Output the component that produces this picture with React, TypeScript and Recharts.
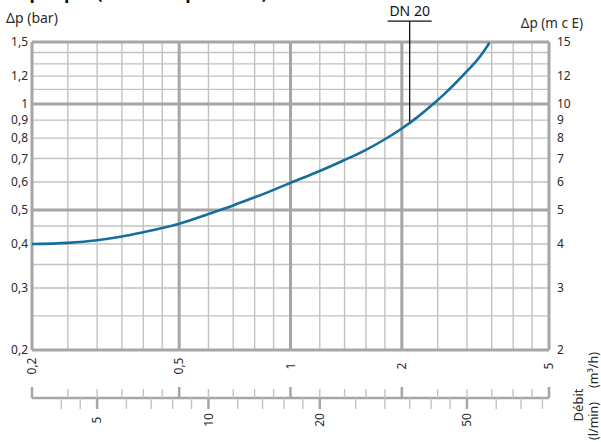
import React from 'react';
import { ComposedChart, Line, XAxis, YAxis, ReferenceLine } from 'recharts';

// pressure drop curve, DN 20
const flowM3h = [0.2, 0.25, 0.3, 0.35, 0.4, 0.45, 0.5, 0.6, 0.7, 0.8, 0.9, 1, 1.2, 1.4, 1.6, 1.8, 2, 2.2, 2.4, 2.6, 2.8, 3, 3.1, 3.2, 3.3, 3.4, 3.45];
const dpBar = [0.4, 0.403, 0.41, 0.42, 0.432, 0.444, 0.457, 0.487, 0.515, 0.543, 0.57, 0.597, 0.645, 0.693, 0.741, 0.794, 0.852, 0.916, 0.988, 1.065, 1.149, 1.239, 1.285, 1.335, 1.392, 1.457, 1.493];

const gridMinorX = [0.25, 0.3, 0.35, 0.4, 0.45, 0.6, 0.7, 0.8, 0.9, 1.2, 1.4, 1.6, 1.8, 2.5, 3, 3.5, 4, 4.5];
const gridMajorX = [0.5, 1, 2];
const frameX = [0.2, 5];
const gridMinorY = [0.25, 0.3, 0.35, 0.4, 0.45, 0.6, 0.7, 0.8, 0.9, 1.1, 1.2, 1.3, 1.4];
const gridMajorY = [0.5, 1];
const frameY = [0.2, 1.5];

const leftTicks = [0.2, 0.3, 0.4, 0.5, 0.6, 0.7, 0.8, 0.9, 1, 1.2, 1.5];
const rightTicks = [2, 3, 4, 5, 6, 7, 8, 9, 10, 12, 15];
const m3hLabels = [0.2, 0.5, 1, 2, 5];
const m3hTicks = [...frameX, ...gridMajorX, ...gridMinorX].sort((a, b) => a - b);
const lminTicks = [4, 4.5, 5, 6, 7, 8, 9, 10, 12, 14, 16, 18, 20, 25, 30, 35, 40, 45, 50, 60, 70, 80];
const lminLabels = [5, 10, 20, 50];

const dnFlow = 2.1;
const dnDp = 0.883;
const dnTop = 1.72;

// l/min is the same flow, just another unit
const data = flowM3h.map((q, i) => ({ q, lmin: (q * 1000) / 60, dp: dpBar[i] }));

const font = '"Noto Sans", sans-serif';
const textColor = '#2b2b2b';
const minorColor = '#c2c2c2';
const majorColor = '#a6a6a6';

const comma = (v: number) => String(v).replace('.', ',');

const M3hTick = (props: any) => {
  const { x, y, payload } = props;
  const v = payload.value;
  const major = m3hLabels.includes(v);
  return (
    <g>
      {major && (
        <text
          transform={`translate(${x},${y + 16}) rotate(-90)`}
          textAnchor="middle"
          dy="0.35em"
          fontSize={12}
          fontFamily={font}
          fill={textColor}
        >
          {comma(v)}
        </text>
      )}
      <line
        x1={x}
        x2={x}
        y1={y + (major ? 37 : 39)}
        y2={y + 48}
        stroke={major ? majorColor : minorColor}
        strokeWidth={major ? 2.5 : 1.4}
      />
    </g>
  );
};

const LminTick = (props: any) => {
  const { x, y, payload } = props;
  const v = payload.value;
  const major = lminLabels.includes(v);
  return (
    <g>
      <line
        x1={x}
        x2={x}
        y1={y}
        y2={y + 11}
        stroke={major ? majorColor : minorColor}
        strokeWidth={major ? 2.5 : 1.4}
      />
      {major && (
        <text
          transform={`translate(${x},${y + 22}) rotate(-90)`}
          textAnchor="middle"
          dy="0.35em"
          fontSize={12}
          fontFamily={font}
          fill={textColor}
        >
          {v}
        </text>
      )}
    </g>
  );
};

const DnLabel = (props: any) => {
  const { viewBox } = props;
  const x = viewBox.x;
  const y = viewBox.y;
  return (
    <g>
      <line x1={x - 22} x2={x + 22} y1={y} y2={y} stroke="#111" strokeWidth={1.3} />
      <text x={x} y={y - 5} textAnchor="middle" fontSize={14} fontFamily={font} fill="#111">
        DN 20
      </text>
    </g>
  );
};

const gridLine = (key: string, props: any) => (
  <ReferenceLine key={key} xAxisId="a_m3h" yAxisId="left" ifOverflow="visible" {...props} />
);

export default function App() {
  return (
    <div style={{ position: 'absolute', left: 0, top: 0, width: 601, height: 442, background: '#fff' }}>
      <ComposedChart width={601} height={442} data={data} margin={{ top: 42, right: 0, bottom: 0, left: 0 }}>
        <XAxis
          xAxisId="b_lmin"
          dataKey="lmin"
          type="number"
          scale="log"
          domain={[10 / 3, 250 / 3]}
          ticks={lminTicks}
          interval={0}
          allowDataOverflow
          height={44}
          axisLine={{ stroke: majorColor, strokeWidth: 2.5 }}
          tickLine={false}
          tickSize={0}
          tickMargin={0}
          tick={<LminTick />}
        />
        <XAxis
          xAxisId="a_m3h"
          dataKey="q"
          type="number"
          scale="log"
          domain={[0.2, 5]}
          ticks={m3hTicks}
          interval={0}
          allowDataOverflow
          height={48}
          axisLine={false}
          tickLine={false}
          tickSize={0}
          tickMargin={0}
          tick={<M3hTick />}
        />
        <YAxis
          yAxisId="left"
          type="number"
          scale="log"
          domain={[0.2, 1.5]}
          ticks={leftTicks}
          interval={0}
          allowDataOverflow
          width={32}
          axisLine={false}
          tickLine={false}
          tickSize={0}
          tickMargin={4}
          tickFormatter={comma}
          tick={{ fontSize: 12, fontFamily: font, fill: textColor }}
        />
        <YAxis
          yAxisId="right"
          orientation="right"
          type="number"
          scale="log"
          domain={[2, 15]}
          ticks={rightTicks}
          interval={0}
          allowDataOverflow
          width={52}
          axisLine={false}
          tickLine={false}
          tickSize={0}
          tickMargin={8}
          tick={{ fontSize: 12, fontFamily: font, fill: textColor }}
        />
        {gridMinorX.map((v) => gridLine(`mx${v}`, { x: v, stroke: minorColor, strokeWidth: 1.4 }))}
        {gridMinorY.map((v) => gridLine(`my${v}`, { y: v, stroke: minorColor, strokeWidth: 1.4 }))}
        {gridMajorX.map((v) => gridLine(`Mx${v}`, { x: v, stroke: majorColor, strokeWidth: 3 }))}
        {gridMajorY.map((v) => gridLine(`My${v}`, { y: v, stroke: majorColor, strokeWidth: 3 }))}
        {frameX.map((v) => gridLine(`fx${v}`, { x: v, stroke: majorColor, strokeWidth: 3 }))}
        {frameY.map((v) => gridLine(`fy${v}`, { y: v, stroke: majorColor, strokeWidth: 3 }))}
        <ReferenceLine
          xAxisId="a_m3h"
          yAxisId="left"
          ifOverflow="visible"
          segment={[{ x: dnFlow, y: dnDp }, { x: dnFlow, y: dnTop }]}
          stroke="#111"
          strokeWidth={1.3}
          label={<DnLabel />}
        />
        <Line
          xAxisId="a_m3h"
          yAxisId="left"
          dataKey="dp"
          type="monotone"
          stroke="#176d9c"
          strokeWidth={2.6}
          dot={false}
          isAnimationActive={false}
        />
      </ComposedChart>
      <svg width={601} height={442} style={{ position: 'absolute', left: 0, top: 0, pointerEvents: 'none' }}>
        <text x={-2} y={-1} fontSize={18} fontWeight="bold" fontFamily={font} fill="#111">
          Graphique (chute de pression)
        </text>
        <text x={6} y={23} fontSize={14} fontFamily={font} fill={textColor}>
          Δp (bar)
        </text>
        <text x={583} y={28} textAnchor="end" fontSize={13.5} fontFamily={font} fill={textColor}>
          Δp (m c E)
        </text>
        <text transform="translate(594,370) rotate(-90)" textAnchor="middle" dy="0.35em" fontSize={12.5} fontFamily={font} fill={textColor}>
          (m³/h)
        </text>
        <text transform="translate(578,405) rotate(-90)" textAnchor="middle" dy="0.35em" fontSize={13} fontFamily={font} fill={textColor}>
          Débit
        </text>
        <text transform="translate(594,421) rotate(-90)" textAnchor="middle" dy="0.35em" fontSize={12.5} fontFamily={font} fill={textColor}>
          (l/min)
        </text>
      </svg>
    </div>
  );
}
